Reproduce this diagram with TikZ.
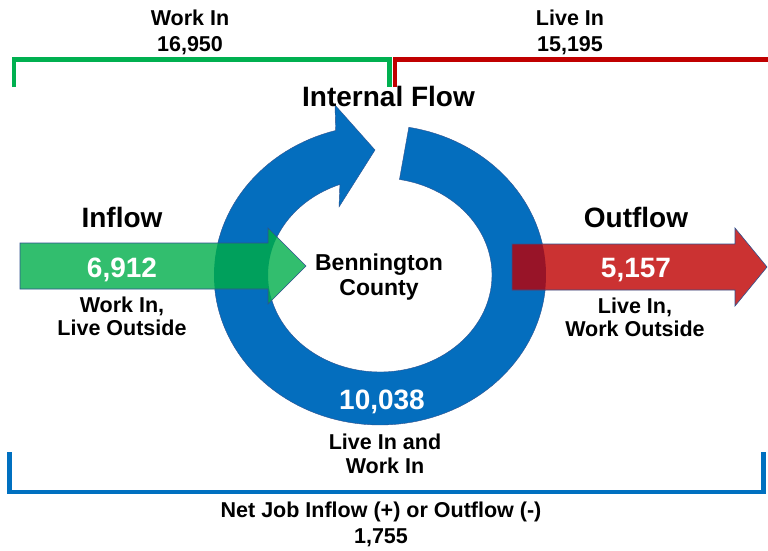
\documentclass[tikz,border=0pt]{standalone}
\usepackage{fontspec}
\setmainfont{Liberation Sans}
\definecolor{ringblue}{RGB}{4,110,190}
\definecolor{edgeblue}{RGB}{47,82,143}
\definecolor{inGreen}{RGB}{50,190,110}
\definecolor{inGreenDark}{RGB}{0,160,92}
\definecolor{outRed}{RGB}{203,50,50}
\definecolor{outRedDark}{RGB}{152,20,40}
\definecolor{brGreen}{RGB}{0,176,80}
\definecolor{brRed}{RGB}{192,0,0}
\definecolor{brBlue}{RGB}{0,112,192}
\begin{document}
\begin{tikzpicture}[x=1pt,y=-1pt,
  lbl/.style={font=\bfseries\fontsize{21.5}{25}\selectfont, anchor=base, inner sep=0pt},
  countylbl/.style={font=\bfseries\fontsize{23}{27}\selectfont, anchor=base, inner sep=0pt},
  headlbl/.style={font=\bfseries\fontsize{28}{32}\selectfont, anchor=base, inner sep=0pt},
  numlbl/.style={font=\bfseries\fontsize{28}{32}\selectfont, anchor=base, inner sep=0pt, text=white},
  bracketline/.style={line width=4.5pt, line cap=butt, line join=miter},
  flowedge/.style={draw=edgeblue, line width=0.6pt}]
\useasboundingbox (0,0) rectangle (768,550);
\fill[white] (0,0) rectangle (768,550);

% ring path (circular arrow)
\def\ringpath{plot[domain=-80:254.5, samples=140] ({380+166*cos(\x)},{275+150*sin(\x)})
  -- (335,105) -- (375,150) -- (339,207)
  -- plot[domain=-249:80, samples=140] ({380+112*cos(-\x)},{275+97*sin(-\x)}) -- cycle}
\def\inpath{(20,243) -- (268,243) -- (268,228) -- (306,266) -- (268,304) -- (268,289) -- (20,289) -- cycle}
\def\outpath{(512,244) -- (735,244) -- (735,228) -- (767,267) -- (735,306) -- (735,290) -- (512,290) -- cycle}

\path[fill=ringblue, draw=edgeblue, line width=0.4pt] \ringpath;

% inflow arrow
\fill[inGreen] \inpath;
\begin{scope}
  \clip \ringpath;
  \fill[inGreenDark] \inpath;
\end{scope}
\draw[flowedge] \inpath;

% outflow arrow
\fill[outRed] \outpath;
\begin{scope}
  \clip \ringpath;
  \fill[outRedDark] \outpath;
\end{scope}
\draw[flowedge] \outpath;

% brackets
\draw[bracketline, brGreen] (13.8,87) -- (13.8,59.5) -- (389.5,59.5) -- (389.5,87);
\draw[bracketline, brRed] (395,87) -- (395,59.5) -- (770,59.5);
\draw[bracketline, brBlue] (9.7,452) -- (9.7,492) -- (763.5,492) -- (763.5,452);

% texts
\node[lbl] (workin) at (190,25) {Work In};
\node[lbl] (workinnum) at (190,51) {16,950};
\node[lbl] (livein) at (570,25) {Live In};
\node[lbl] (liveinnum) at (570,51) {15,195};
\node[headlbl] (internal) at (388.5,106) {Internal Flow};
\node[headlbl] (inflow) at (122,227.5) {Inflow};
\node[headlbl] (outflow) at (636,227.5) {Outflow};
\node[numlbl] (innum) at (122,277) {6,912};
\node[numlbl] (outnum) at (636,277) {5,157};
\node[lbl] (indesc1) at (122,312) {Work In,};
\node[lbl] (indesc2) at (122,335) {Live Outside};
\node[lbl] (outdesc1) at (635,313) {Live In,};
\node[lbl] (outdesc2) at (635,336) {Work Outside};
\node[countylbl] (county1) at (379,270) {Bennington};
\node[countylbl] (county2) at (379,295) {County};
\node[numlbl] (internum) at (382,409) {10,038};
\node[lbl] (interdesc1) at (385,449) {Live In and};
\node[lbl] (interdesc2) at (385,473) {Work In};
\node[lbl] (net1) at (381,517) {Net Job Inflow (+) or Outflow (-)};
\node[lbl] (net2) at (381,543) {1,755};
\end{tikzpicture}
\end{document}
